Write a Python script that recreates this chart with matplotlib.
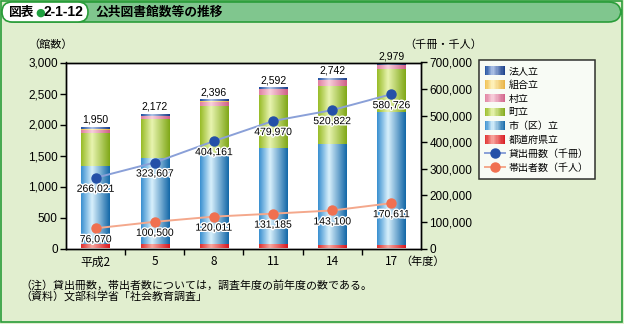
import matplotlib
matplotlib.use("Agg")
import matplotlib.pyplot as plt
import numpy as np
from matplotlib.patches import FancyBboxPatch, Rectangle, Patch
from matplotlib.lines import Line2D
from matplotlib.colors import LinearSegmentedColormap
from matplotlib.legend_handler import HandlerBase
import matplotlib.patheffects as pe

plt.rcParams['font.family'] = ['Noto Sans CJK JP', 'DejaVu Sans']

# ---------------- data ----------------
categories = ["平成2", "5", "8", "11", "14", "17"]
totals = [1950, 2172, 2396, 2592, 2742, 2979]
prefectural = [70, 66, 66, 66, 64, 62]        # 都道府県立
city = [1262, 1395, 1466, 1557, 1618, 2141]    # 市（区）立
town = [528, 628, 768, 850, 941, 689]          # 町立
village = [44, 43, 65, 92, 92, 69]             # 村立
union = [16, 12, 6, 4, 4, 3]                   # 組合立
corporate = [30, 28, 25, 23, 23, 15]           # 法人立
loans = [266021, 323607, 404161, 479970, 520822, 580726]   # 貸出冊数（千冊）
users = [76070, 100500, 120011, 131185, 143100, 170611]    # 帯出者数（千人）
left_ticks = [0, 500, 1000, 1500, 2000, 2500, 3000]
right_ticks = [0, 100000, 200000, 300000, 400000, 500000, 600000, 700000]

W, H = 624, 324
fig = plt.figure(figsize=(W / 100, H / 100), dpi=100)
fig.patch.set_facecolor("#e1eecf")

def fx(px):
    return px / W

def fy(py):
    return 1 - py / H

# frame
fig.patches.append(Rectangle((fx(1), fy(322)), fx(621), 321 / H, transform=fig.transFigure,
                             facecolor="none", edgecolor="#2a9d3a", lw=1.2, zorder=0))
# header band
fig.patches.append(FancyBboxPatch((fx(2), fy(22)), fx(619), 20 / H, transform=fig.transFigure,
                                  boxstyle="round,pad=0,rounding_size=0.02",
                                  facecolor="#80c68e", edgecolor="#2a9d3a", lw=1.2, zorder=1,
                                  mutation_aspect=W / H))
fig.patches.append(FancyBboxPatch((fx(2), fy(22)), fx(86), 20 / H, transform=fig.transFigure,
                                  boxstyle="round,pad=0,rounding_size=0.016",
                                  facecolor="white", edgecolor="#2a9d3a", lw=1.2, zorder=2,
                                  mutation_aspect=W / H))
fig.text(fx(8), fy(12.5), "図表", fontsize=9.2, fontweight="bold", va="center", ha="left", zorder=3)
fig.text(fx(35), fy(12.5), "●", fontsize=8, color="#1fa040", va="center", ha="left", zorder=3,
         family=["DejaVu Sans"])
fig.text(fx(43.5), fy(12.5), "2-1-12", fontsize=10, fontweight="bold", va="center", ha="left",
         zorder=3, family=["Liberation Sans", "DejaVu Sans"])
fig.text(fx(95), fy(12.5), "公共図書館数等の推移", fontsize=9.2, fontweight="bold", va="center",
         ha="left", zorder=3)

# ---------------- axes ----------------
ax = fig.add_axes([fx(66), fy(248.5), fx(421 - 66), (248.5 - 62.5) / H])
ax.set_facecolor("white")
ax.set_xlim(-0.5, 5.5)
ax.set_ylim(0, 3000)
x = np.arange(len(categories))

def grad_cmap(edge, light, dark):
    return LinearSegmentedColormap.from_list("g", [(0, edge), (0.38, light), (1, dark)])

cmaps = {
    "red": grad_cmap("#e03030", "#f8a8a0", "#d81820"),
    "blue": grad_cmap("#3a90d0", "#d8f0fc", "#1468a8"),
    "green": grad_cmap("#98bc28", "#e8f4b0", "#80a818"),
    "pink": grad_cmap("#e080a0", "#f8d0dc", "#d06088"),
    "yellow": grad_cmap("#f0c050", "#fff4c0", "#e8b040"),
    "navy": grad_cmap("#2050a0", "#b0c4e8", "#183c88"),
}
series = [(prefectural, "red", "都道府県立"), (city, "blue", "市（区）立"), (town, "green", "町立"),
          (village, "pink", "村立"), (union, "yellow", "組合立"), (corporate, "navy", "法人立")]

bw = 0.48
grad = np.linspace(0, 1, 64).reshape(1, -1)
bottoms = np.zeros(len(categories))
for vals, key, name in series:
    for i, v in enumerate(vals):
        ax.imshow(grad, cmap=cmaps[key], aspect="auto", interpolation="bilinear",
                  extent=[x[i] - bw / 2, x[i] + bw / 2, bottoms[i], bottoms[i] + v], zorder=2)
    bottoms += np.array(vals)
ax.set_xlim(-0.5, 5.5)
ax.set_ylim(0, 3000)

for i, t in enumerate(totals):
    ax.annotate(f"{t:,}", (x[i], bottoms[i]), xytext=(0, 2), textcoords="offset points",
                ha="center", va="bottom", fontsize=7.5, family=["Liberation Sans", "DejaVu Sans"],
                zorder=5)

ax.set_yticks(left_ticks)
ax.set_yticklabels([f"{v:,}" for v in left_ticks], fontsize=8.5,
                   family=["Liberation Sans", "DejaVu Sans"])
ax.set_xticks(x)
ax.set_xticklabels(categories, fontsize=8.5)
ax.set_xticks(np.arange(0.5, 5.5, 1), minor=True)
ax.tick_params(axis="x", which="major", length=0, pad=5)
ax.tick_params(axis="x", which="minor", length=4, direction="out", width=1)
ax.tick_params(axis="y", length=4, direction="out", width=1, pad=2)
for s in ax.spines.values():
    s.set_linewidth(1)

ax2 = ax.twinx()
ax2.set_ylim(0, 700000)
ax2.set_yticks(right_ticks)
ax2.set_yticklabels([f"{v:,}" for v in right_ticks], fontsize=8.5,
                    family=["Liberation Sans", "DejaVu Sans"])
ax2.tick_params(axis="y", length=4, direction="out", width=1, pad=2)
for s in ax2.spines.values():
    s.set_linewidth(1)

ax2.plot(x, loans, color="#8aa0d8", lw=1.4, marker="o", ms=6.5, mfc="#2450a8", mec="#2450a8",
         zorder=4)
ax2.plot(x, users, color="#f4a88c", lw=1.4, marker="o", ms=6.5, mfc="#f07050", mec="#f07050",
         zorder=4)
halo = [pe.withStroke(linewidth=2, foreground="white")]
for i in range(len(x)):
    ax2.annotate(f"{loans[i]:,}", (x[i], loans[i]), xytext=(0, -11), textcoords="offset pixels",
                 ha="center", va="center", fontsize=7.5, family=["Liberation Sans", "DejaVu Sans"],
                 path_effects=halo, zorder=6)
    ax2.annotate(f"{users[i]:,}", (x[i], users[i]), xytext=(0, -11), textcoords="offset pixels",
                 ha="center", va="center", fontsize=7.5, family=["Liberation Sans", "DejaVu Sans"],
                 path_effects=halo, zorder=6)

fig.text(fx(51), fy(45), "（館数）", fontsize=8, ha="center", va="center")
fig.text(fx(443), fy(45), "（千冊・千人）", fontsize=8, ha="center", va="center")
fig.text(fx(400), fy(262), "（年度）", fontsize=8, ha="left", va="center")

# ---------------- legend ----------------
class GradHandler(HandlerBase):
    def __init__(self, cmap):
        super().__init__()
        self.cmap = cmap

    def create_artists(self, legend, orig_handle, xdescent, ydescent, width, height, fontsize, trans):
        n = 16
        arts = []
        for k in range(n):
            r = Rectangle((-xdescent + width * k / n, -ydescent), width / n + 0.3, height,
                          facecolor=self.cmap((k + 0.5) / n), edgecolor="none", transform=trans)
            arts.append(r)
        return arts

leg_items = [("navy", "法人立"), ("yellow", "組合立"), ("pink", "村立"), ("green", "町立"),
             ("blue", "市（区）立"), ("red", "都道府県立")]
handles, labels, hmap = [], [], {}
for key, name in leg_items:
    p = Patch()
    handles.append(p)
    labels.append(name)
    hmap[p] = GradHandler(cmaps[key])
handles.append(Line2D([], [], color="#8aa0d8", lw=1.4, marker="o", ms=6.5, mfc="#2450a8",
                      mec="#2450a8"))
labels.append("貸出冊数（千冊）")
handles.append(Line2D([], [], color="#f4a88c", lw=1.4, marker="o", ms=6.5, mfc="#f07050",
                      mec="#f07050"))
labels.append("帯出者数（千人）")
leg = fig.legend(handles, labels, handler_map=hmap, loc="upper left",
                 bbox_to_anchor=(fx(479), fy(60)), borderaxespad=0, fontsize=7.2, frameon=True,
                 fancybox=False, edgecolor="black", handlelength=2.0, handleheight=0.95,
                 labelspacing=0.38, borderpad=0.6, handletextpad=0.35)
leg.get_frame().set_linewidth(1.1)
leg.get_frame().set_facecolor("white")

# ---------------- notes ----------------
fig.text(fx(20), fy(285), "（注）貸出冊数，帯出者数については，調査年度の前年度の数である。",
         fontsize=7.9, ha="left", va="center")
fig.text(fx(20), fy(296.5), "（資料）文部科学省「社会教育調査」", fontsize=7.9, ha="left", va="center")

fig.savefig("out.png", dpi=100, facecolor=fig.get_facecolor())
